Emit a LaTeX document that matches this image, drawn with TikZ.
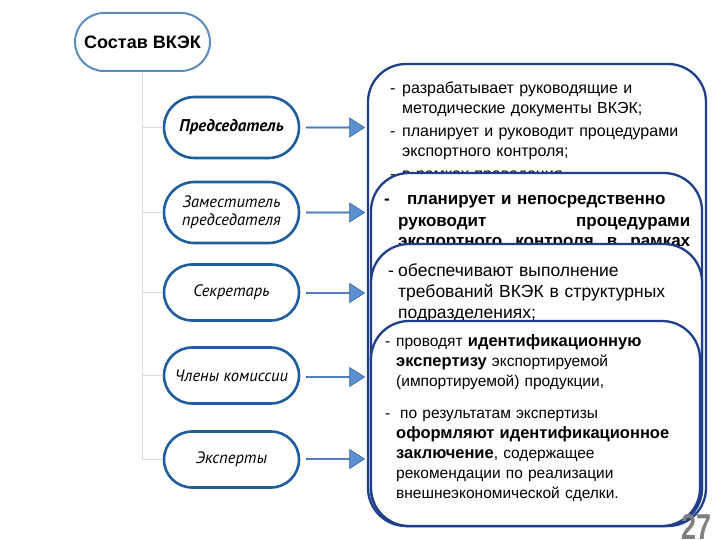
\documentclass[tikz,border=0pt]{standalone}
\usepackage{fontspec}
\setmainfont{Liberation Sans}
\newfontfamily\ptfont{PT Sans}
\usetikzlibrary{shapes.misc,shapes.arrows}
\definecolor{pillblue}{HTML}{1F5E9E}
\definecolor{topblue}{HTML}{5E8CBB}
\definecolor{navy}{HTML}{1F3F8A}
\definecolor{arrowfill}{HTML}{5A8FD0}
\definecolor{arrowline}{HTML}{2E62A4}
\definecolor{treegray}{HTML}{D9D9D9}
\definecolor{numgray}{HTML}{7F7F7F}
\newcommand{\itm}[3]{\hangindent=#1pt\hangafter=1\noindent\makebox[#1pt][l]{-}#2#3\par}
\begin{document}
\begin{tikzpicture}[x=1pt,y=-1pt,
  toppill/.style={rounded rectangle, draw=topblue, line width=2pt, fill=white,
    minimum width=135pt, minimum height=58pt, inner sep=0pt,
    font=\fontsize{18}{20}\selectfont\bfseries},
  pill/.style={rounded rectangle, draw=pillblue, line width=2.6pt, fill=white,
    minimum width=135pt, inner sep=0pt, align=center,
    font=\ptfont\itshape\fontsize{16.5}{19}\selectfont},
  tree/.style={draw=treegray, line width=0.8pt},
  barrow/.style={single arrow, draw=arrowline, fill=arrowfill, line width=0.6pt,
    minimum height=58pt, minimum width=19pt, single arrow head extend=4pt,
    single arrow tip angle=65, inner sep=0pt},
  bigbox/.style={draw=navy, line width=2.3pt, fill=white, rounded corners=38pt},
  btext/.style={anchor=base west, inner sep=0pt}
]
\useasboundingbox (0,0) rectangle (720,540);

% left column
\node[toppill] (top) at (142.5,42) {Состав ВКЭК};
\node[pill, minimum height=61pt, font=\ptfont\bfseries\itshape\fontsize{17}{19}\selectfont] (p1) at (231.5,127.5) {Председатель};
\node[pill, minimum height=61pt] (p2) at (231.5,212.5) {Заместитель\\[-1pt]председателя};
\node[pill, minimum height=56pt] (p3) at (231.5,292.5) {Секретарь};
\node[pill, minimum height=56pt] (p4) at (231.5,375.5) {Члены комиссии};
\node[pill, minimum height=56pt] (p5) at (231.5,459.5) {Эксперты};

\foreach \p in {p1,p2,p3,p4,p5}
  \draw[tree] (top.south) |- (\p.west);

% arrows
\node[barrow] (a1) at (335,127.5) {};
\node[barrow] (a2) at (335,212.5) {};
\node[barrow] (a3) at (335,293) {};
\node[barrow] (a4) at (335,377) {};
\node[barrow] (a5) at (335,459) {};

% box 1
\draw[bigbox] (368,64) rectangle (706,526);
\node[btext, text width=320pt, font=\fontsize{16}{20}\selectfont] (t1) at (390,94) {%
\itm{12}{}{разрабатывает руководящие и\newline методические документы ВКЭК;}\vspace{3pt}%
\itm{12}{}{планирует и руководит процедурами\newline экспортного контроля;}\vspace{3pt}%
\itm{12}{}{в рамках проведения}};

% box 2
\draw[bigbox] (371,173) rectangle (702,526);
\node[btext, text width=306pt, font=\fontsize{17}{21}\selectfont\bfseries] (t2) at (384,205) {%
\itm{14}{\hspace{9pt}}{планирует и непосредственно\newline руководит\hfill процедурами\newline экспортного\hfill контроля\hfill в\hfill рамках}};

% box 3
\draw[bigbox] (371,244) rectangle (702,526);
\node[btext, text width=300pt, font=\fontsize{17.5}{21}\selectfont] (t3) at (388,276.5) {%
\itm{10}{}{обеспечивают выполнение\newline требований ВКЭК в структурных\newline подразделениях;}};

% box 4
\draw[bigbox] (371,321) rectangle (700,526);
\node[btext, text width=310pt, font=\fontsize{15.5}{20}\selectfont] (t4) at (385,346) {%
\itm{11}{}{проводят {\fontsize{16.5}{20}\selectfont\bfseries идентификационную}\newline {\fontsize{16.5}{20}\selectfont\bfseries экспертизу} экспортируемой\newline (импортируемой) продукции,}\vspace{12pt}%
\itm{11}{\hspace{4pt}}{по результатам экспертизы\newline {\fontsize{16.5}{20}\selectfont\bfseries оформляют идентификационное}\newline {\fontsize{16.5}{20}\selectfont\bfseries заключение}, содержащее\newline рекомендации по реализации\newline внешнеэкономической сделки.}};

% page number
\node[anchor=south east, inner sep=0pt, text=numgray, font=\fontsize{36}{36}\selectfont\bfseries, xscale=0.75] (num) at (712,540) {27};
\end{tikzpicture}
\end{document}
